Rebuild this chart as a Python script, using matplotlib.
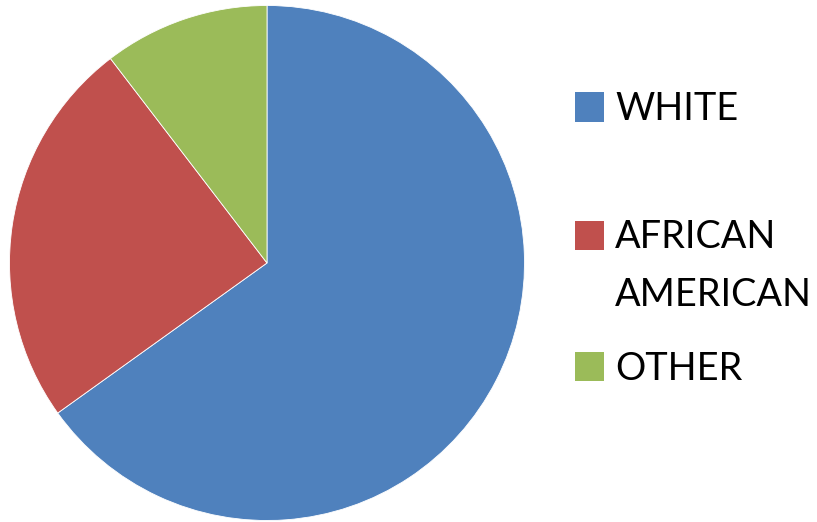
import matplotlib.pyplot as plt
from matplotlib.patches import Rectangle

labels = ['WHITE', 'AFRICAN\nAMERICAN', 'OTHER']
shares = [65.1, 24.5, 10.4]
colors = ['#4F81BD', '#C0504D', '#9BBB59']

W, H = 817, 522
fig = plt.figure(figsize=(W / 100, H / 100), dpi=100)

# pie: centre (267, 263) px from top-left, radius ~257.5 px
cx, cy, r = 267, H - 263, 257.5
ax = fig.add_axes([(cx - r) / W, (cy - r) / H, 2 * r / W, 2 * r / H])
ax.pie(shares, colors=colors, startangle=90, counterclock=False,
       radius=1, wedgeprops=dict(edgecolor='white', linewidth=0.6))
ax.set_xlim(-1, 1)
ax.set_ylim(-1, 1)
ax.set_aspect('equal')
ax.axis('off')

# legend on the right, one square per entry
key_tops = [92.5, 221, 352]      # px from top
baselines = [119.5, 248.5, 379.5]
line_step = 57
sq = 29
for lab, col, top, base in zip(labels, colors, key_tops, baselines):
    fig.add_artist(Rectangle((575 / W, (H - top - sq) / H), sq / W, sq / H,
                             transform=fig.transFigure, facecolor=col,
                             edgecolor='none'))
    for i, line in enumerate(lab.split('\n')):
        fig.text(615 / W, (H - base - i * line_step) / H, line,
                 family='Lato', fontsize=27.3, va='baseline', ha='left',
                 color='black')

fig.savefig('out.png', dpi=100)
